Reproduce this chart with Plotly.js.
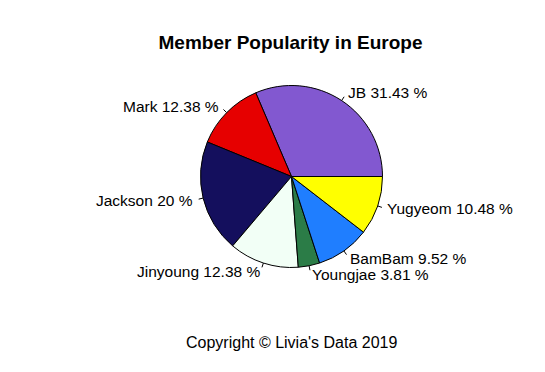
<!DOCTYPE html>
<html>
<head>
<meta charset="utf-8">
<script src="https://cdn.plot.ly/plotly-3.0.1.min.js"></script>
<style>html,body{margin:0;padding:0;background:#fff;}#chart{width:545px;height:372px;}</style>
</head>
<body>
<div id="chart"></div>
<script>
// ---- data ----
const members = ['JB', 'Mark', 'Jackson', 'Jinyoung', 'Youngjae', 'BamBam', 'Yugyeom'];
const votes = [33, 13, 21, 13, 4, 10, 11];
const sliceColors = ['#8258D0', '#E60000', '#140F5D', '#F2FFF6', '#2B7C47', '#1F7EFF', '#FFFF00'];
const chartTitle = 'Member Popularity in Europe';
const footerText = 'Copyright \u00A9 Livia\'s Data 2019';

// ---- layout constants ----
const W = 545, H = 372;
const cx = 291.5, cy = 176.5, r = 91;
const FONT = 'Liberation Sans, Arial, Helvetica, sans-serif';

const total = votes.reduce((a, b) => a + b, 0);
const pctText = votes.map(v => String(Math.round(v / total * 10000) / 100));

const annotations = [];
const shapes = [];
let cum = 0;
votes.forEach((v, i) => {
  const mid = (cum + v / 2) / total * 2 * Math.PI;
  cum += v;
  const c = Math.cos(mid), s = Math.sin(mid);
  const toPaper = (rr) => [(cx + rr * c) / W, 1 - (cy - rr * s) / H];
  const [lx, ly] = toPaper(1.1 * r);
  const [ax, ay] = toPaper(r);
  const [bx, by] = toPaper(1.05 * r);
  annotations.push({
    xref: 'paper', yref: 'paper', x: lx, y: ly,
    xanchor: c > 0 ? 'left' : 'right', yanchor: 'middle',
    text: members[i] + ' ' + pctText[i] + ' %',
    showarrow: false, borderpad: 0,
    font: {family: FONT, size: 15.5, color: '#000'}
  });
  shapes.push({
    type: 'line', xref: 'paper', yref: 'paper',
    x0: ax, y0: ay, x1: bx, y1: by,
    line: {color: '#000', width: 1}
  });
});

annotations.push({
  xref: 'paper', yref: 'paper', x: 292 / W, y: 1 - 342 / H,
  xanchor: 'center', yanchor: 'middle', showarrow: false,
  text: footerText,
  font: {family: FONT, size: 16, color: '#000'}
});

// Plotly puts the first slice clockwise of the rotation line when direction is
// counterclockwise, so rotate by the first slice's share to start it at 3 o'clock.
const rotation = 90 - 360 * votes[0] / total;

const trace = {
  type: 'pie',
  labels: members,
  values: votes,
  sort: false,
  direction: 'counterclockwise',
  rotation: rotation,
  textinfo: 'none',
  hoverinfo: 'label+percent',
  marker: {colors: sliceColors, line: {color: '#000', width: 1}},
  domain: {
    x: [(cx - r) / W, (cx + r) / W],
    y: [(H - cy - r) / H, (H - cy + r) / H]
  },
  showlegend: false
};

const layout = {
  width: W, height: H,
  margin: {l: 0, r: 0, t: 0, b: 0},
  paper_bgcolor: '#fff', plot_bgcolor: '#fff',
  title: {
    text: '<b>' + chartTitle + '</b>',
    x: 290.5 / W, xanchor: 'center', xref: 'paper',
    y: 1 - 42 / H, yanchor: 'middle', yref: 'container',
    font: {family: FONT, size: 19, color: '#000'}
  },
  annotations: annotations,
  shapes: shapes,
  showlegend: false
};

Plotly.newPlot('chart', [trace], layout, {displayModeBar: false, staticPlot: true});
</script>
</body>
</html>
